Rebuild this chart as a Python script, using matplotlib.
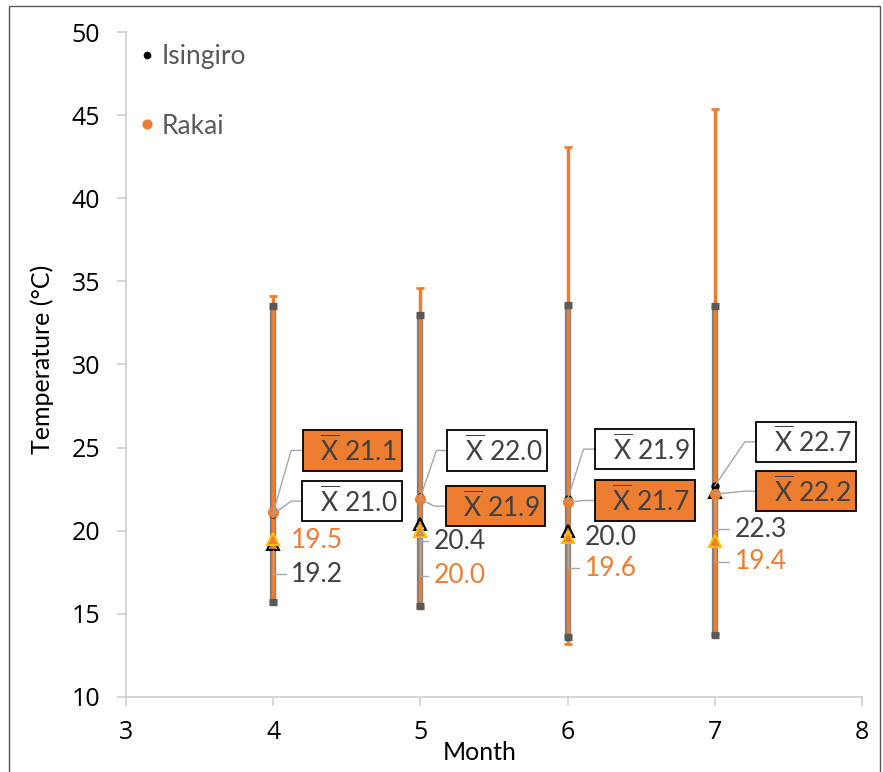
import numpy as np
import matplotlib
matplotlib.use("Agg")
import matplotlib.pyplot as plt
from matplotlib.patches import Rectangle

plt.rcParams['font.family'] = ['Lato', 'DejaVu Sans']
plt.rcParams['mathtext.fontset'] = 'custom'
plt.rcParams['mathtext.rm'] = 'Lato'

months = [4, 5, 6, 7]

# Isingiro
isi_mean = [21.0, 22.0, 21.9, 22.7]
isi_median = [19.2, 20.4, 20.0, 22.3]
isi_max = [33.5, 33.0, 33.6, 33.5]
isi_min = [15.7, 15.5, 13.6, 13.7]

# Rakai
rak_mean = [21.1, 21.9, 21.7, 22.2]
rak_median = [19.5, 20.0, 19.6, 19.4]
rak_max = [34.1, 34.6, 43.1, 45.4]
rak_min = [15.7, 15.4, 13.2, 13.8]

ORANGE = '#ED7D31'
TXT = '#404040'
LEAD = '#A6A6A6'

fig = plt.figure(figsize=(8.83, 7.72), dpi=100)
ax = fig.add_axes([0.1427, 0.0972, 0.8335, 0.8613])

x = np.array(months)

# range bars (min..max) around the mean
yerr_i = [np.array(isi_mean) - np.array(isi_min), np.array(isi_max) - np.array(isi_mean)]
yerr_r = [np.array(rak_mean) - np.array(rak_min), np.array(rak_max) - np.array(rak_mean)]
ax.errorbar(x, isi_mean, yerr=yerr_i, fmt='none', ecolor='#7F7F7F', elinewidth=4.5,
            capsize=3, capthick=5, zorder=2)
ax.errorbar(x, rak_mean, yerr=yerr_r, fmt='none', ecolor=ORANGE, elinewidth=2.5,
            capsize=3, capthick=2, zorder=3)
# dark caps of the Isingiro bars drawn over
for xi, lo, hi in zip(x, isi_min, isi_max):
    ax.plot([xi, xi], [lo, hi], ls='none', marker='s', ms=5, color='#595959', zorder=3.5)

# medians and means
ax.plot(x, isi_median, ls='none', marker='^', ms=8, mfc='none', mec='black', mew=1.5, zorder=4)
ax.plot(x, rak_median, ls='none', marker='^', ms=9, mfc=ORANGE, mec='#FFC000', mew=1.5, zorder=5)
ax.plot(x, isi_mean, ls='none', marker='o', ms=5, color='black', zorder=4, label='Isingiro')
ax.plot(x, rak_mean, ls='none', marker='o', ms=7, color=ORANGE, zorder=5, label='Rakai')

ax.set_xlim(3, 8)
ax.set_ylim(10, 50)
ax.set_xticks([3, 4, 5, 6, 7, 8])
ax.set_yticks(range(10, 51, 5))
for s in ['top', 'right']:
    ax.spines[s].set_visible(False)
for s in ['left', 'bottom']:
    ax.spines[s].set_color('#D0D0D0')
    ax.spines[s].set_linewidth(1.2)
ax.tick_params(axis='both', colors='#D0D0D0', labelcolor='black', labelsize=18,
               length=6.5, width=1.2, direction='out')
ax.tick_params(axis='y', pad=12)
ax.tick_params(axis='x', pad=10)
for lab in ax.get_xticklabels() + ax.get_yticklabels():
    lab.set_family('Open Sans')

ax.set_ylabel('Temperature (°C)', fontsize=18, va='center')
ax.yaxis.set_label_coords(-0.114, 0.507)
ax.set_xlabel('Month', fontsize=18, va='center')
ax.xaxis.set_label_coords(0.481, -0.083)

leg = ax.legend(loc='upper left', bbox_to_anchor=(-0.013, 1.018), frameon=False, fontsize=19,
                labelspacing=1.7, handlelength=0.5, handletextpad=0.3, markerscale=0.9)
for t in leg.get_texts():
    t.set_color('#595959')

# mean callout offsets in pixels (box centre relative to point)
mean_offsets_i = [(79, 13), (77, 47), (77, 50), (91, 44)]
mean_offsets_r = [(79, 62), (75, -7), (77, 2), (91, 3)]


def mean_label(xv, yv, dx, dy, face):
    ex = dx - 52 - 9
    ang = np.degrees(np.arctan2(dy, ex)) if ex > 0 else 90
    ax.annotate('  $\\overline{\\mathrm{X}}$ %.1f' % yv, xy=(xv, yv), xytext=(dx, dy),
                textcoords='offset pixels', ha='center', va='center', fontsize=19,
                color=TXT, zorder=6,
                bbox=dict(boxstyle='square,pad=0.18', fc=face, ec='black', lw=1.3),
                arrowprops=dict(arrowstyle='-', color=LEAD, lw=1, shrinkA=0, shrinkB=0,
                                relpos=(0, 0.5),
                                connectionstyle='angle,angleA=0,angleB=%.1f,rad=0' % ang))


for xv, yv, (dx, dy) in zip(months, isi_mean, mean_offsets_i):
    mean_label(xv, yv, dx, dy, 'white')
for xv, yv, (dx, dy) in zip(months, rak_mean, mean_offsets_r):
    mean_label(xv, yv, dx, dy, ORANGE)

# median callout offsets in pixels (text left edge relative to point)
med_offsets_i = [(18, -30), (13, -17), (17, -7), (20, -37)]
med_offsets_r = [(18, -1), (13, -45), (17, -31), (20, -21)]


def median_label(xv, yv, dx, dy, color):
    arrow = None
    if abs(dy) > 15:
        arrow = dict(arrowstyle='-', color=LEAD, lw=1, shrinkA=2, shrinkB=4,
                     relpos=(0, 0.5), connectionstyle='angle,angleA=0,angleB=90,rad=0')
    ax.annotate('%.1f' % yv, xy=(xv, yv), xytext=(dx, dy), textcoords='offset pixels',
                ha='left', va='center', fontsize=19, color=color, zorder=6,
                arrowprops=arrow)


for xv, yv, (dx, dy) in zip(months, isi_median, med_offsets_i):
    median_label(xv, yv, dx, dy, TXT)
for xv, yv, (dx, dy) in zip(months, rak_median, med_offsets_r):
    median_label(xv, yv, dx, dy, ORANGE)

fig.patches.append(Rectangle((9 / 883, -0.05), 871 / 883, 1.05 - 6 / 772,
                             transform=fig.transFigure, fill=False, ec='#595959', lw=1))

fig.savefig('out.png', dpi=100)
